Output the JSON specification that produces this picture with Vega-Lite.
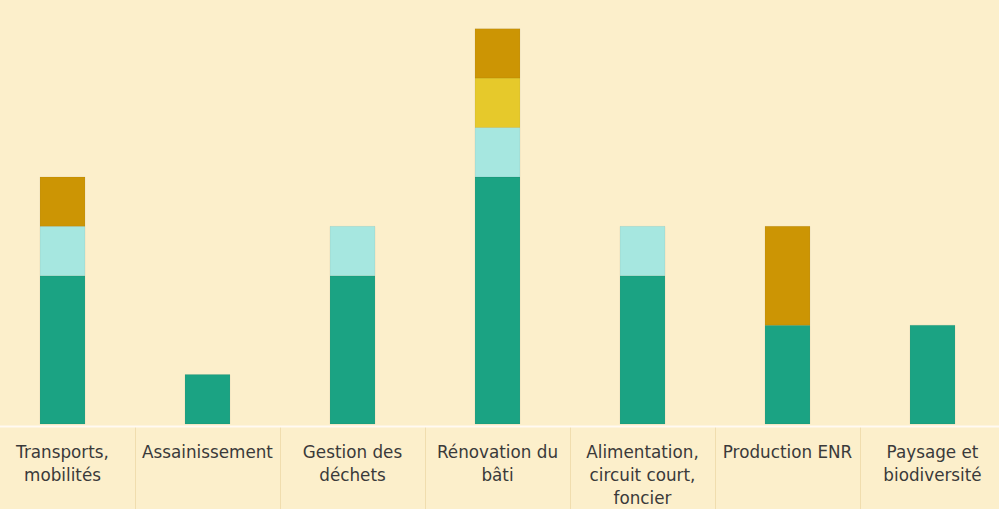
{
  "$schema": "https://vega.github.io/schema/vega-lite/v6.json",
  "width": 999,
  "height": 424,
  "autosize": "none",
  "padding": {"left": 0, "top": 0, "right": 0, "bottom": 85},
  "background": "#FCEFCB",
  "config": {"view": {"stroke": null}},
  "data": {"values": [
    {"cat": "Transports,|mobilités", "serie": "A", "n": 3},
    {"cat": "Transports,|mobilités", "serie": "B", "n": 1},
    {"cat": "Transports,|mobilités", "serie": "D", "n": 1},
    {"cat": "Assainissement", "serie": "A", "n": 1},
    {"cat": "Gestion des|déchets", "serie": "A", "n": 3},
    {"cat": "Gestion des|déchets", "serie": "B", "n": 1},
    {"cat": "Rénovation du|bâti", "serie": "A", "n": 5},
    {"cat": "Rénovation du|bâti", "serie": "B", "n": 1},
    {"cat": "Rénovation du|bâti", "serie": "C", "n": 1},
    {"cat": "Rénovation du|bâti", "serie": "D", "n": 1},
    {"cat": "Alimentation,|circuit court,|foncier", "serie": "A", "n": 3},
    {"cat": "Alimentation,|circuit court,|foncier", "serie": "B", "n": 1},
    {"cat": "Production ENR", "serie": "A", "n": 2},
    {"cat": "Production ENR", "serie": "D", "n": 2},
    {"cat": "Paysage et|biodiversité", "serie": "A", "n": 2}
  ]},
  "mark": {"type": "bar", "width": {"band": 0.31}, "stroke": "#000000", "strokeOpacity": 0.06, "strokeWidth": 1},
  "encoding": {
    "x": {
      "field": "cat", "type": "nominal", "sort": null,
      "scale": {"range": [-10, 1005], "paddingInner": 0, "paddingOuter": 0},
      "axis": {
        "title": null, "labelAngle": 0, "bandPosition": 0,
        "labelExpr": "split(datum.label, '|')",
        "labelFont": "DejaVu Sans", "labelFontSize": 16.8, "labelColor": "#3A3A3A",
        "labelLineHeight": 23, "labelBaseline": "top", "labelPadding": -67,
        "labelFlush": false, "labelOverlap": false, "labelBound": false,
        "offset": 2,
        "domainColor": "#FFFAF2", "domainWidth": 2,
        "tickColor": "#F0DDAE", "tickSize": 85, "tickWidth": 1
      }
    },
    "y": {
      "field": "n", "type": "quantitative", "aggregate": "sum", "stack": "zero",
      "scale": {"domain": [0, 8.58], "nice": false},
      "axis": null
    },
    "color": {
      "field": "serie", "type": "nominal",
      "scale": {"domain": ["A", "B", "C", "D"], "range": ["#1BA383", "#A6E7E0", "#E6C92B", "#CC9504"]},
      "legend": null
    },
    "order": {"field": "serie", "sort": "ascending"}
  }
}
